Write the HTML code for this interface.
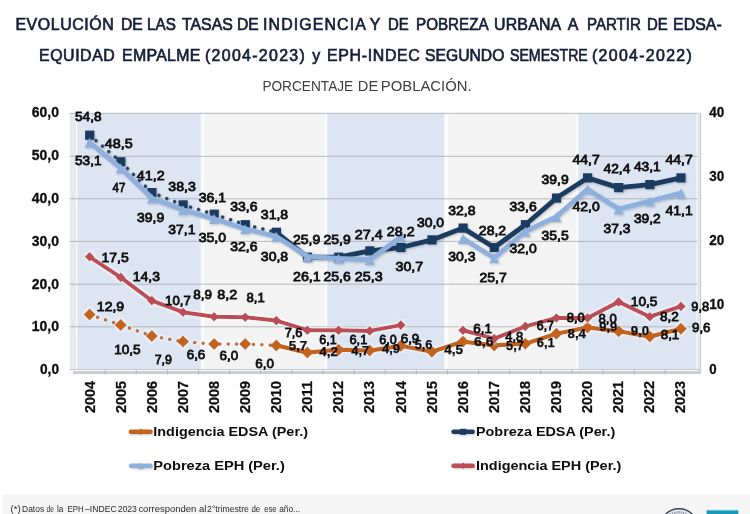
<!DOCTYPE html>
<html lang="es"><head><meta charset="utf-8"><title>Evolución de las tasas de indigencia y de pobreza urbana</title>
<style>
html,body{margin:0;padding:0;background:#fff;}
body{width:750px;height:514px;overflow:hidden;}
svg{display:block;}
text{font-family:"Liberation Sans",Arial,sans-serif;}
.t1{font-size:15.9px;fill:#151d38;stroke:#151d38;stroke-width:0.65px;}
.t3{font-size:14.2px;fill:#404040;}
.ax{font-size:13.8px;font-weight:bold;fill:#0c0c0c;stroke:#0c0c0c;stroke-width:0.3px;}
.yr{font-size:14.5px;font-weight:bold;fill:#0c0c0c;stroke:#0c0c0c;stroke-width:0.25px;}
.dl{font-size:13.1px;fill:#101010;stroke:#101010;stroke-width:0.8px;}
.lg{font-size:13.5px;font-weight:bold;fill:#0c0c0c;}
.fn{font-size:9px;fill:#2a2a2a;}
</style></head><body>
<svg width="750" height="514" viewBox="0 0 750 514">
<defs>
<filter id="sh" x="-5%" y="-20%" width="110%" height="140%"><feGaussianBlur in="SourceAlpha" stdDeviation="1.2"/><feOffset dx="0.8" dy="1.2"/><feComponentTransfer><feFuncA type="linear" slope="0.22"/></feComponentTransfer><feMerge><feMergeNode/><feMergeNode in="SourceGraphic"/></feMerge></filter>
<filter id="gl" x="-5%" y="-30%" width="110%" height="160%"><feMorphology in="SourceAlpha" operator="dilate" radius="1" result="d"/><feGaussianBlur in="d" stdDeviation="0.9" result="b"/><feFlood flood-color="#ffffff" flood-opacity="0.6"/><feComposite in2="b" operator="in" result="g"/><feMerge><feMergeNode in="g"/><feMergeNode in="SourceGraphic"/></feMerge></filter>
<filter id="bl" x="0" y="0" width="750" height="514" filterUnits="userSpaceOnUse"><feGaussianBlur stdDeviation="0.45"/></filter>
</defs>
<rect width="750" height="514" fill="#ffffff"/>
<g filter="url(#bl)">

<g class="t1">
<text x="15.4" y="30.1" textLength="98.4" lengthAdjust="spacing">EVOLUCIÓN</text>
<text x="121.0" y="30.1" textLength="21.8" lengthAdjust="spacingAndGlyphs">DE</text>
<text x="147.0" y="30.1" textLength="28.8" lengthAdjust="spacingAndGlyphs">LAS</text>
<text x="182.0" y="30.1" textLength="50.8" lengthAdjust="spacingAndGlyphs">TASAS</text>
<text x="237.0" y="30.1" textLength="21.8" lengthAdjust="spacingAndGlyphs">DE</text>
<text x="263.0" y="30.1" textLength="102.8" lengthAdjust="spacing">INDIGENCIA</text>
<text x="369.8" y="30.1" textLength="12.4" lengthAdjust="spacing">Y</text>
<text x="388.0" y="30.1" textLength="20.8" lengthAdjust="spacingAndGlyphs">DE</text>
<text x="416.0" y="30.1" textLength="72.6" lengthAdjust="spacingAndGlyphs">POBREZA</text>
<text x="494.0" y="30.1" textLength="67.2" lengthAdjust="spacing">URBANA</text>
<text x="567.8" y="30.1" textLength="13.4" lengthAdjust="spacing">A</text>
<text x="587.0" y="30.1" textLength="53.8" lengthAdjust="spacingAndGlyphs">PARTIR</text>
<text x="647.0" y="30.1" textLength="20.8" lengthAdjust="spacingAndGlyphs">DE</text>
<text x="673.0" y="30.1" textLength="48.8" lengthAdjust="spacing">EDSA-</text>
<text x="39.0" y="60.9" textLength="75.8" lengthAdjust="spacing">EQUIDAD</text>
<text x="122.0" y="60.9" textLength="78.4" lengthAdjust="spacing">EMPALME</text>
<text x="205.0" y="60.9" textLength="99.8" lengthAdjust="spacing">(2004-2023)</text>
<text x="312.2" y="60.9" textLength="9.6" lengthAdjust="spacing">y</text>
<text x="327.0" y="60.9" textLength="92.8" lengthAdjust="spacing">EPH-INDEC</text>
<text x="425.0" y="60.9" textLength="79.4" lengthAdjust="spacingAndGlyphs">SEGUNDO</text>
<text x="510.0" y="60.9" textLength="77.8" lengthAdjust="spacingAndGlyphs">SEMESTRE</text>
<text x="592.0" y="60.9" textLength="99.8" lengthAdjust="spacing">(2004-2022)</text>
</g>
<g class="t3">
<text x="262.4" y="90.8" textLength="90.8" lengthAdjust="spacingAndGlyphs">PORCENTAJE</text>
<text x="357.8" y="90.8" textLength="20.4" lengthAdjust="spacingAndGlyphs">DE</text>
<text x="380.8" y="90.8" textLength="90.8" lengthAdjust="spacingAndGlyphs">POBLACIÓN.</text>
</g>
<g>
<rect x="76" y="113.3" width="621" height="255.7" fill="#fbfbfc"/>
<rect x="77.3" y="113.3" width="123.4" height="255.7" fill="#dce5f1"/>
<rect x="204.7" y="113.3" width="120.0" height="255.7" fill="#f3f3f3"/>
<rect x="327.3" y="113.3" width="117.0" height="255.7" fill="#dce5f1"/>
<rect x="448.3" y="113.3" width="127.4" height="255.7" fill="#f3f3f3"/>
<rect x="578.3" y="113.3" width="118.0" height="255.7" fill="#dce5f1"/>
<rect x="70" y="113.3" width="6" height="256.7" fill="#e7e9ed"/>
<line x1="69.4" x2="700.6" y1="113.3" y2="113.3" stroke="#aeb2b8" stroke-width="0.9"/>
<line x1="69.4" x2="700.6" y1="156.3" y2="156.3" stroke="#aeb2b8" stroke-width="0.9"/>
<line x1="69.4" x2="700.6" y1="198.8" y2="198.8" stroke="#aeb2b8" stroke-width="0.9"/>
<line x1="69.4" x2="700.6" y1="241.4" y2="241.4" stroke="#aeb2b8" stroke-width="0.9"/>
<line x1="69.4" x2="700.6" y1="284.2" y2="284.2" stroke="#aeb2b8" stroke-width="0.9"/>
<line x1="69.4" x2="700.6" y1="326.8" y2="326.8" stroke="#aeb2b8" stroke-width="0.9"/>
<rect x="697" y="113.3" width="3.4" height="259.7" fill="#e6e8eb"/>
<line x1="700.6" x2="700.6" y1="113.3" y2="374" stroke="#c3c6ca" stroke-width="1"/>
<line x1="69.6" x2="701" y1="369.5" y2="369.5" stroke="#c4c7cb" stroke-width="1"/>
<rect x="73" y="371" width="628" height="3" fill="#cbced2"/>
<line x1="105.1" x2="105.1" y1="369.5" y2="374.4" stroke="#b4b7bb" stroke-width="1"/>
<line x1="136.2" x2="136.2" y1="369.5" y2="374.4" stroke="#b4b7bb" stroke-width="1"/>
<line x1="167.4" x2="167.4" y1="369.5" y2="374.4" stroke="#b4b7bb" stroke-width="1"/>
<line x1="198.5" x2="198.5" y1="369.5" y2="374.4" stroke="#b4b7bb" stroke-width="1"/>
<line x1="229.6" x2="229.6" y1="369.5" y2="374.4" stroke="#b4b7bb" stroke-width="1"/>
<line x1="260.7" x2="260.7" y1="369.5" y2="374.4" stroke="#b4b7bb" stroke-width="1"/>
<line x1="291.8" x2="291.8" y1="369.5" y2="374.4" stroke="#b4b7bb" stroke-width="1"/>
<line x1="323.0" x2="323.0" y1="369.5" y2="374.4" stroke="#b4b7bb" stroke-width="1"/>
<line x1="354.1" x2="354.1" y1="369.5" y2="374.4" stroke="#b4b7bb" stroke-width="1"/>
<line x1="385.2" x2="385.2" y1="369.5" y2="374.4" stroke="#b4b7bb" stroke-width="1"/>
<line x1="416.3" x2="416.3" y1="369.5" y2="374.4" stroke="#b4b7bb" stroke-width="1"/>
<line x1="447.4" x2="447.4" y1="369.5" y2="374.4" stroke="#b4b7bb" stroke-width="1"/>
<line x1="478.6" x2="478.6" y1="369.5" y2="374.4" stroke="#b4b7bb" stroke-width="1"/>
<line x1="509.7" x2="509.7" y1="369.5" y2="374.4" stroke="#b4b7bb" stroke-width="1"/>
<line x1="540.8" x2="540.8" y1="369.5" y2="374.4" stroke="#b4b7bb" stroke-width="1"/>
<line x1="571.9" x2="571.9" y1="369.5" y2="374.4" stroke="#b4b7bb" stroke-width="1"/>
<line x1="603.0" x2="603.0" y1="369.5" y2="374.4" stroke="#b4b7bb" stroke-width="1"/>
<line x1="634.2" x2="634.2" y1="369.5" y2="374.4" stroke="#b4b7bb" stroke-width="1"/>
<line x1="665.3" x2="665.3" y1="369.5" y2="374.4" stroke="#b4b7bb" stroke-width="1"/>
</g>
<g filter="url(#gl)">
<polyline points="89.6,314.6 120.7,324.9 151.8,336.0 183.0,341.6 214.1,344.1 245.2,344.1 276.3,345.4" fill="none" stroke="#b9723f" stroke-width="3.6" stroke-linejoin="round" stroke-linecap="round" stroke-dasharray="0.1 8.3"/>
<polyline points="276.3,345.4 307.4,352.6 338.6,349.7 369.7,350.6 400.8,345.8 431.9,351.8 463.0,341.6 494.2,345.4 525.3,343.7 556.4,333.8 587.5,327.4 618.6,331.3 649.8,336.6 680.9,328.7" fill="none" stroke="#c4641f" stroke-width="4.2" stroke-linejoin="round" stroke-linecap="round" />
<path d="M89.6 308.6L95.6 314.6L89.6 320.6L83.6 314.6Z" fill="#c4641f"/>
<path d="M120.7 318.9L126.7 324.9L120.7 330.9L114.7 324.9Z" fill="#c4641f"/>
<path d="M151.8 330.0L157.8 336.0L151.8 342.0L145.8 336.0Z" fill="#c4641f"/>
<path d="M183.0 335.6L189.0 341.6L183.0 347.6L177.0 341.6Z" fill="#c4641f"/>
<path d="M214.1 338.1L220.1 344.1L214.1 350.1L208.1 344.1Z" fill="#c4641f"/>
<path d="M245.2 338.1L251.2 344.1L245.2 350.1L239.2 344.1Z" fill="#c4641f"/>
<path d="M276.3 339.4L282.3 345.4L276.3 351.4L270.3 345.4Z" fill="#c4641f"/>
<path d="M307.4 346.6L313.4 352.6L307.4 358.6L301.4 352.6Z" fill="#c4641f"/>
<path d="M338.6 343.7L344.6 349.7L338.6 355.7L332.6 349.7Z" fill="#c4641f"/>
<path d="M369.7 344.6L375.7 350.6L369.7 356.6L363.7 350.6Z" fill="#c4641f"/>
<path d="M400.8 339.8L406.8 345.8L400.8 351.8L394.8 345.8Z" fill="#c4641f"/>
<path d="M431.9 345.8L437.9 351.8L431.9 357.8L425.9 351.8Z" fill="#c4641f"/>
<path d="M463.0 335.6L469.0 341.6L463.0 347.6L457.0 341.6Z" fill="#c4641f"/>
<path d="M494.2 339.4L500.2 345.4L494.2 351.4L488.2 345.4Z" fill="#c4641f"/>
<path d="M525.3 337.7L531.3 343.7L525.3 349.7L519.3 343.7Z" fill="#c4641f"/>
<path d="M556.4 327.8L562.4 333.8L556.4 339.8L550.4 333.8Z" fill="#c4641f"/>
<path d="M587.5 321.4L593.5 327.4L587.5 333.4L581.5 327.4Z" fill="#c4641f"/>
<path d="M618.6 325.3L624.6 331.3L618.6 337.3L612.6 331.3Z" fill="#c4641f"/>
<path d="M649.8 330.6L655.8 336.6L649.8 342.6L643.8 336.6Z" fill="#c4641f"/>
<path d="M680.9 322.7L686.9 328.7L680.9 334.7L674.9 328.7Z" fill="#c4641f"/>
</g>
<g filter="url(#sh)">
<polyline points="89.6,135.2 120.7,161.8 151.8,192.6 183.0,204.9 214.1,214.2 245.2,224.7 276.3,232.3" fill="none" stroke="#2b4568" stroke-width="3.5" stroke-linejoin="round" stroke-linecap="round" stroke-dasharray="0.1 8.3"/>
<polyline points="276.3,232.3 307.4,257.2 338.6,257.2 369.7,250.9 400.8,247.5 431.9,239.9 463.0,228.1 494.2,247.5 525.3,224.7 556.4,198.1 587.5,177.9 618.6,187.6 649.8,184.6 680.9,177.9" fill="none" stroke="#1f3b60" stroke-width="4.8" stroke-linejoin="round" stroke-linecap="round" />
<rect x="85.1" y="130.6" width="9.2" height="9.2" fill="#1f3b60"/>
<rect x="116.2" y="157.2" width="9.2" height="9.2" fill="#1f3b60"/>
<rect x="147.3" y="188.0" width="9.2" height="9.2" fill="#1f3b60"/>
<rect x="178.5" y="200.3" width="9.2" height="9.2" fill="#1f3b60"/>
<rect x="209.6" y="209.6" width="9.2" height="9.2" fill="#1f3b60"/>
<rect x="240.7" y="220.1" width="9.2" height="9.2" fill="#1f3b60"/>
<rect x="271.8" y="227.7" width="9.2" height="9.2" fill="#1f3b60"/>
<rect x="302.9" y="252.6" width="9.2" height="9.2" fill="#1f3b60"/>
<rect x="334.1" y="252.6" width="9.2" height="9.2" fill="#1f3b60"/>
<rect x="365.2" y="246.3" width="9.2" height="9.2" fill="#1f3b60"/>
<rect x="396.3" y="242.9" width="9.2" height="9.2" fill="#1f3b60"/>
<rect x="427.4" y="235.3" width="9.2" height="9.2" fill="#1f3b60"/>
<rect x="458.5" y="223.5" width="9.2" height="9.2" fill="#1f3b60"/>
<rect x="489.7" y="242.9" width="9.2" height="9.2" fill="#1f3b60"/>
<rect x="520.8" y="220.1" width="9.2" height="9.2" fill="#1f3b60"/>
<rect x="551.9" y="193.5" width="9.2" height="9.2" fill="#1f3b60"/>
<rect x="583.0" y="173.3" width="9.2" height="9.2" fill="#1f3b60"/>
<rect x="614.1" y="183.0" width="9.2" height="9.2" fill="#1f3b60"/>
<rect x="645.3" y="180.0" width="9.2" height="9.2" fill="#1f3b60"/>
<rect x="676.4" y="173.3" width="9.2" height="9.2" fill="#1f3b60"/>
</g>
<g filter="url(#sh)">
<polyline points="89.6,142.4 120.7,168.2 151.8,198.1 183.0,209.9 214.1,218.8 245.2,228.9 276.3,236.5 307.4,256.4 338.6,258.5 369.7,259.7 400.8,236.9" fill="none" stroke="#8fb0dc" stroke-width="4.9" stroke-linejoin="round" stroke-linecap="round" />
<polyline points="463.0,238.6 494.2,258.0 525.3,231.5 556.4,216.7 587.5,189.3 618.6,209.1 649.8,201.1 680.9,193.1" fill="none" stroke="#8fb0dc" stroke-width="4.9" stroke-linejoin="round" stroke-linecap="round" />
<path d="M89.6 137.7L94.6 147.7L84.6 147.7Z" fill="#8fb0dc"/>
<path d="M120.7 163.5L125.7 173.5L115.7 173.5Z" fill="#8fb0dc"/>
<path d="M151.8 193.4L156.8 203.4L146.8 203.4Z" fill="#8fb0dc"/>
<path d="M183.0 205.2L188.0 215.2L178.0 215.2Z" fill="#8fb0dc"/>
<path d="M214.1 214.1L219.1 224.1L209.1 224.1Z" fill="#8fb0dc"/>
<path d="M245.2 224.2L250.2 234.2L240.2 234.2Z" fill="#8fb0dc"/>
<path d="M276.3 231.8L281.3 241.8L271.3 241.8Z" fill="#8fb0dc"/>
<path d="M307.4 251.7L312.4 261.7L302.4 261.7Z" fill="#8fb0dc"/>
<path d="M338.6 253.8L343.6 263.8L333.6 263.8Z" fill="#8fb0dc"/>
<path d="M369.7 255.0L374.7 265.0L364.7 265.0Z" fill="#8fb0dc"/>
<path d="M400.8 232.2L405.8 242.2L395.8 242.2Z" fill="#8fb0dc"/>
<path d="M463.0 233.9L468.0 243.9L458.0 243.9Z" fill="#8fb0dc"/>
<path d="M494.2 253.3L499.2 263.3L489.2 263.3Z" fill="#8fb0dc"/>
<path d="M525.3 226.8L530.3 236.8L520.3 236.8Z" fill="#8fb0dc"/>
<path d="M556.4 212.0L561.4 222.0L551.4 222.0Z" fill="#8fb0dc"/>
<path d="M587.5 184.6L592.5 194.6L582.5 194.6Z" fill="#8fb0dc"/>
<path d="M618.6 204.4L623.6 214.4L613.6 214.4Z" fill="#8fb0dc"/>
<path d="M649.8 196.4L654.8 206.4L644.8 206.4Z" fill="#8fb0dc"/>
<path d="M680.9 188.4L685.9 198.4L675.9 198.4Z" fill="#8fb0dc"/>
</g>
<g filter="url(#gl)">
<polyline points="89.6,256.8 120.7,277.4 151.8,300.6 183.0,312.2 214.1,316.7 245.2,317.3 276.3,320.6 307.4,330.2 338.6,330.2 369.7,330.9 400.8,325.1" fill="none" stroke="#bb4d56" stroke-width="4" stroke-linejoin="round" stroke-linecap="round" />
<polyline points="463.0,330.2 494.2,338.6 525.3,326.4 556.4,318.0 587.5,318.0 618.6,301.9 649.8,316.7 680.9,306.4" fill="none" stroke="#bb4d56" stroke-width="4" stroke-linejoin="round" stroke-linecap="round" />
<path d="M89.6 252.0L94.4 256.8L89.6 261.6L84.8 256.8Z" fill="#bb4d56"/>
<path d="M120.7 272.6L125.5 277.4L120.7 282.2L115.9 277.4Z" fill="#bb4d56"/>
<path d="M151.8 295.8L156.6 300.6L151.8 305.4L147.0 300.6Z" fill="#bb4d56"/>
<path d="M183.0 307.4L187.8 312.2L183.0 317.0L178.2 312.2Z" fill="#bb4d56"/>
<path d="M214.1 311.9L218.9 316.7L214.1 321.5L209.3 316.7Z" fill="#bb4d56"/>
<path d="M245.2 312.5L250.0 317.3L245.2 322.1L240.4 317.3Z" fill="#bb4d56"/>
<path d="M276.3 315.8L281.1 320.6L276.3 325.4L271.5 320.6Z" fill="#bb4d56"/>
<path d="M307.4 325.4L312.2 330.2L307.4 335.0L302.6 330.2Z" fill="#bb4d56"/>
<path d="M338.6 325.4L343.4 330.2L338.6 335.0L333.8 330.2Z" fill="#bb4d56"/>
<path d="M369.7 326.1L374.5 330.9L369.7 335.7L364.9 330.9Z" fill="#bb4d56"/>
<path d="M400.8 320.3L405.6 325.1L400.8 329.9L396.0 325.1Z" fill="#bb4d56"/>
<path d="M463.0 325.4L467.8 330.2L463.0 335.0L458.2 330.2Z" fill="#bb4d56"/>
<path d="M494.2 333.8L499.0 338.6L494.2 343.4L489.4 338.6Z" fill="#bb4d56"/>
<path d="M525.3 321.6L530.1 326.4L525.3 331.2L520.5 326.4Z" fill="#bb4d56"/>
<path d="M556.4 313.2L561.2 318.0L556.4 322.8L551.6 318.0Z" fill="#bb4d56"/>
<path d="M587.5 313.2L592.3 318.0L587.5 322.8L582.7 318.0Z" fill="#bb4d56"/>
<path d="M618.6 297.1L623.4 301.9L618.6 306.7L613.8 301.9Z" fill="#bb4d56"/>
<path d="M649.8 311.9L654.6 316.7L649.8 321.5L645.0 316.7Z" fill="#bb4d56"/>
<path d="M680.9 301.6L685.7 306.4L680.9 311.2L676.1 306.4Z" fill="#bb4d56"/>
</g>
<g class="dl">
<text x="75.0" y="120.8" textLength="26.5" lengthAdjust="spacingAndGlyphs">54,8</text>
<text x="104.8" y="148.0" textLength="27.9" lengthAdjust="spacingAndGlyphs">48,5</text>
<text x="136.8" y="180.0" textLength="27.9" lengthAdjust="spacingAndGlyphs">41,2</text>
<text x="168.3" y="191.4" textLength="27.6" lengthAdjust="spacingAndGlyphs">38,3</text>
<text x="198.7" y="201.8" textLength="27.3" lengthAdjust="spacingAndGlyphs">36,1</text>
<text x="230.2" y="211.3" textLength="27.3" lengthAdjust="spacingAndGlyphs">33,6</text>
<text x="260.8" y="219.3" textLength="27.4" lengthAdjust="spacingAndGlyphs">31,8</text>
<text x="292.9" y="243.6" textLength="27.4" lengthAdjust="spacingAndGlyphs">25,9</text>
<text x="323.5" y="244.0" textLength="27.2" lengthAdjust="spacingAndGlyphs">25,9</text>
<text x="354.8" y="238.7" textLength="27.9" lengthAdjust="spacingAndGlyphs">27,4</text>
<text x="386.8" y="235.5" textLength="27.9" lengthAdjust="spacingAndGlyphs">28,2</text>
<text x="417.0" y="226.7" textLength="27.0" lengthAdjust="spacingAndGlyphs">30,0</text>
<text x="448.2" y="214.5" textLength="27.3" lengthAdjust="spacingAndGlyphs">32,8</text>
<text x="478.8" y="235.3" textLength="27.4" lengthAdjust="spacingAndGlyphs">28,2</text>
<text x="509.5" y="211.3" textLength="27.2" lengthAdjust="spacingAndGlyphs">33,6</text>
<text x="541.5" y="183.9" textLength="27.2" lengthAdjust="spacingAndGlyphs">39,9</text>
<text x="572.5" y="164.0" textLength="27.2" lengthAdjust="spacingAndGlyphs">44,7</text>
<text x="603.5" y="173.0" textLength="26.8" lengthAdjust="spacingAndGlyphs">42,4</text>
<text x="633.9" y="171.0" textLength="26.8" lengthAdjust="spacingAndGlyphs">43,1</text>
<text x="665.5" y="163.6" textLength="27.2" lengthAdjust="spacingAndGlyphs">44,7</text>
<text x="75.0" y="165.3" textLength="26.5" lengthAdjust="spacingAndGlyphs">53,1</text>
<text x="112.5" y="191.5" textLength="12.8" lengthAdjust="spacingAndGlyphs">47</text>
<text x="137.0" y="222.0" textLength="27.2" lengthAdjust="spacingAndGlyphs">39,9</text>
<text x="168.3" y="234.0" textLength="27.1" lengthAdjust="spacingAndGlyphs">37,1</text>
<text x="198.7" y="242.0" textLength="27.3" lengthAdjust="spacingAndGlyphs">35,0</text>
<text x="230.2" y="251.3" textLength="27.3" lengthAdjust="spacingAndGlyphs">32,6</text>
<text x="260.8" y="260.7" textLength="27.4" lengthAdjust="spacingAndGlyphs">30,8</text>
<text x="293.0" y="281.3" textLength="27.7" lengthAdjust="spacingAndGlyphs">26,1</text>
<text x="323.5" y="281.3" textLength="27.2" lengthAdjust="spacingAndGlyphs">25,6</text>
<text x="354.8" y="281.3" textLength="27.9" lengthAdjust="spacingAndGlyphs">25,3</text>
<text x="395.5" y="270.7" textLength="27.7" lengthAdjust="spacingAndGlyphs">30,7</text>
<text x="448.2" y="261.0" textLength="27.3" lengthAdjust="spacingAndGlyphs">30,3</text>
<text x="479.5" y="282.0" textLength="27.2" lengthAdjust="spacingAndGlyphs">25,7</text>
<text x="509.5" y="253.2" textLength="27.2" lengthAdjust="spacingAndGlyphs">32,0</text>
<text x="541.5" y="239.9" textLength="27.2" lengthAdjust="spacingAndGlyphs">35,5</text>
<text x="572.5" y="211.0" textLength="27.2" lengthAdjust="spacingAndGlyphs">42,0</text>
<text x="603.5" y="232.7" textLength="26.8" lengthAdjust="spacingAndGlyphs">37,3</text>
<text x="633.9" y="223.0" textLength="26.8" lengthAdjust="spacingAndGlyphs">39,2</text>
<text x="665.5" y="215.0" textLength="27.2" lengthAdjust="spacingAndGlyphs">41,1</text>
<text x="101.5" y="261.9" textLength="27.2" lengthAdjust="spacingAndGlyphs">17,5</text>
<text x="132.8" y="281.3" textLength="27.1" lengthAdjust="spacingAndGlyphs">14,3</text>
<text x="165.1" y="305.3" textLength="25.6" lengthAdjust="spacingAndGlyphs">10,7</text>
<text x="193.3" y="298.7" textLength="18.7" lengthAdjust="spacingAndGlyphs">8,9</text>
<text x="217.3" y="298.7" textLength="20.0" lengthAdjust="spacingAndGlyphs">8,2</text>
<text x="246.5" y="301.9" textLength="18.2" lengthAdjust="spacingAndGlyphs">8,1</text>
<text x="284.7" y="337.3" textLength="17.8" lengthAdjust="spacingAndGlyphs">7,6</text>
<text x="319.3" y="343.5" textLength="17.4" lengthAdjust="spacingAndGlyphs">6,1</text>
<text x="349.5" y="343.5" textLength="17.8" lengthAdjust="spacingAndGlyphs">6,1</text>
<text x="379.3" y="343.5" textLength="17.4" lengthAdjust="spacingAndGlyphs">6,0</text>
<text x="400.7" y="342.7" textLength="18.6" lengthAdjust="spacingAndGlyphs">6,9</text>
<text x="473.3" y="333.3" textLength="18.7" lengthAdjust="spacingAndGlyphs">6,1</text>
<text x="505.3" y="340.8" textLength="17.9" lengthAdjust="spacingAndGlyphs">4,8</text>
<text x="536.8" y="330.1" textLength="17.2" lengthAdjust="spacingAndGlyphs">6,7</text>
<text x="566.7" y="321.5" textLength="18.1" lengthAdjust="spacingAndGlyphs">8,0</text>
<text x="598.5" y="322.5" textLength="18.2" lengthAdjust="spacingAndGlyphs">8,0</text>
<text x="630.8" y="306.0" textLength="26.6" lengthAdjust="spacingAndGlyphs">10,5</text>
<text x="660.0" y="321.2" textLength="18.8" lengthAdjust="spacingAndGlyphs">8,2</text>
<text x="691.3" y="311.3" textLength="17.9" lengthAdjust="spacingAndGlyphs">9,8</text>
<text x="96.8" y="310.7" textLength="27.4" lengthAdjust="spacingAndGlyphs">12,9</text>
<text x="114.2" y="354.1" textLength="26.5" lengthAdjust="spacingAndGlyphs">10,5</text>
<text x="154.7" y="364.0" textLength="17.3" lengthAdjust="spacingAndGlyphs">7,9</text>
<text x="186.7" y="358.7" textLength="18.6" lengthAdjust="spacingAndGlyphs">6,6</text>
<text x="219.5" y="360.0" textLength="18.6" lengthAdjust="spacingAndGlyphs">6,0</text>
<text x="255.3" y="368.0" textLength="18.7" lengthAdjust="spacingAndGlyphs">6,0</text>
<text x="288.7" y="349.9" textLength="18.6" lengthAdjust="spacingAndGlyphs" font-weight="bold" stroke-width="0.25">5,7</text>
<text x="319.3" y="356.0" textLength="18.7" lengthAdjust="spacingAndGlyphs" font-weight="bold" stroke-width="0.25">4,2</text>
<text x="351.3" y="355.2" textLength="17.9" lengthAdjust="spacingAndGlyphs" font-weight="bold" stroke-width="0.25">4,7</text>
<text x="382.0" y="353.3" textLength="18.0" lengthAdjust="spacingAndGlyphs" font-weight="bold" stroke-width="0.25">4,9</text>
<text x="414.7" y="348.8" textLength="17.8" lengthAdjust="spacingAndGlyphs" font-weight="bold" stroke-width="0.25">5,6</text>
<text x="444.2" y="353.8" textLength="18.8" lengthAdjust="spacingAndGlyphs" font-weight="bold" stroke-width="0.25">4,5</text>
<text x="474.0" y="346.4" textLength="19.6" lengthAdjust="spacingAndGlyphs" font-weight="bold" stroke-width="0.25">6,6</text>
<text x="506.0" y="349.5" textLength="18.0" lengthAdjust="spacingAndGlyphs" font-weight="bold" stroke-width="0.25">5,7</text>
<text x="536.8" y="347.4" textLength="17.9" lengthAdjust="spacingAndGlyphs" font-weight="bold" stroke-width="0.25">6,1</text>
<text x="567.5" y="337.5" textLength="18.5" lengthAdjust="spacingAndGlyphs" font-weight="bold" stroke-width="0.25">8,4</text>
<text x="599.3" y="331.3" textLength="17.9" lengthAdjust="spacingAndGlyphs" font-weight="bold" stroke-width="0.25">9,9</text>
<text x="630.8" y="335.3" textLength="18.4" lengthAdjust="spacingAndGlyphs" font-weight="bold" stroke-width="0.25">9,0</text>
<text x="660.7" y="338.8" textLength="18.6" lengthAdjust="spacingAndGlyphs">8,1</text>
<text x="692.0" y="331.9" textLength="18.5" lengthAdjust="spacingAndGlyphs">9,6</text>
</g>
<g class="ax">
<text x="31.8" y="117.4" textLength="27.2" lengthAdjust="spacingAndGlyphs">60,0</text>
<text x="31.8" y="160.2" textLength="27.2" lengthAdjust="spacingAndGlyphs">50,0</text>
<text x="31.8" y="203.0" textLength="27.2" lengthAdjust="spacingAndGlyphs">40,0</text>
<text x="31.8" y="245.8" textLength="27.2" lengthAdjust="spacingAndGlyphs">30,0</text>
<text x="31.8" y="288.6" textLength="27.2" lengthAdjust="spacingAndGlyphs">20,0</text>
<text x="31.8" y="331.4" textLength="27.2" lengthAdjust="spacingAndGlyphs">10,0</text>
<text x="40.0" y="374.2" textLength="19" lengthAdjust="spacingAndGlyphs">0,0</text>
<text x="709.3" y="116.6" textLength="15" lengthAdjust="spacingAndGlyphs">40</text>
<text x="709.3" y="180.8" textLength="15" lengthAdjust="spacingAndGlyphs">30</text>
<text x="709.3" y="245.1" textLength="15" lengthAdjust="spacingAndGlyphs">20</text>
<text x="709.3" y="309.4" textLength="15" lengthAdjust="spacingAndGlyphs">10</text>
<text x="709.3" y="373.6" textLength="7.4" lengthAdjust="spacingAndGlyphs">0</text>
</g>
<g class="yr">
<text transform="translate(94.7 413) rotate(-90)" textLength="32" lengthAdjust="spacingAndGlyphs">2004</text>
<text transform="translate(125.8 413) rotate(-90)" textLength="32" lengthAdjust="spacingAndGlyphs">2005</text>
<text transform="translate(156.9 413) rotate(-90)" textLength="32" lengthAdjust="spacingAndGlyphs">2006</text>
<text transform="translate(187.9 413) rotate(-90)" textLength="32" lengthAdjust="spacingAndGlyphs">2007</text>
<text transform="translate(219.0 413) rotate(-90)" textLength="32" lengthAdjust="spacingAndGlyphs">2008</text>
<text transform="translate(250.1 413) rotate(-90)" textLength="32" lengthAdjust="spacingAndGlyphs">2009</text>
<text transform="translate(281.2 413) rotate(-90)" textLength="32" lengthAdjust="spacingAndGlyphs">2010</text>
<text transform="translate(312.3 413) rotate(-90)" textLength="32" lengthAdjust="spacingAndGlyphs">2011</text>
<text transform="translate(343.3 413) rotate(-90)" textLength="32" lengthAdjust="spacingAndGlyphs">2012</text>
<text transform="translate(374.4 413) rotate(-90)" textLength="32" lengthAdjust="spacingAndGlyphs">2013</text>
<text transform="translate(405.5 413) rotate(-90)" textLength="32" lengthAdjust="spacingAndGlyphs">2014</text>
<text transform="translate(436.6 413) rotate(-90)" textLength="32" lengthAdjust="spacingAndGlyphs">2015</text>
<text transform="translate(467.7 413) rotate(-90)" textLength="32" lengthAdjust="spacingAndGlyphs">2016</text>
<text transform="translate(498.7 413) rotate(-90)" textLength="32" lengthAdjust="spacingAndGlyphs">2017</text>
<text transform="translate(529.8 413) rotate(-90)" textLength="32" lengthAdjust="spacingAndGlyphs">2018</text>
<text transform="translate(560.9 413) rotate(-90)" textLength="32" lengthAdjust="spacingAndGlyphs">2019</text>
<text transform="translate(592.0 413) rotate(-90)" textLength="32" lengthAdjust="spacingAndGlyphs">2020</text>
<text transform="translate(623.1 413) rotate(-90)" textLength="32" lengthAdjust="spacingAndGlyphs">2021</text>
<text transform="translate(654.1 413) rotate(-90)" textLength="32" lengthAdjust="spacingAndGlyphs">2022</text>
<text transform="translate(685.2 413) rotate(-90)" textLength="32" lengthAdjust="spacingAndGlyphs">2023</text>
</g>
<g filter="url(#sh)">
<line x1="131" x2="150.4" y1="431.8" y2="431.8" stroke="#c4641f" stroke-width="4.6" stroke-linecap="round"/><path d="M140.7 428.5L144.0 431.8L140.7 435.1L137.4 431.8Z" fill="#c4641f"/>
<line x1="131" x2="150.4" y1="465.7" y2="465.7" stroke="#8fb0dc" stroke-width="4.6" stroke-linecap="round"/><path d="M140.7 462.5L143.9 468.9L137.5 468.9Z" fill="#8fb0dc"/>
<line x1="453.6" x2="472.6" y1="431.8" y2="431.8" stroke="#1f3b60" stroke-width="4.6" stroke-linecap="round"/><rect x="460.1" y="428.8" width="6.0" height="6.0" fill="#1f3b60"/>
<line x1="453.6" x2="472.6" y1="465.7" y2="465.7" stroke="#bb4d56" stroke-width="4.6" stroke-linecap="round"/><path d="M463.1 462.4L466.4 465.7L463.1 469.0L459.8 465.7Z" fill="#bb4d56"/>
</g>
<g class="lg">
<text x="153.3" y="436.3" textLength="154.7" lengthAdjust="spacingAndGlyphs">Indigencia EDSA (Per.)</text>
<text x="153.3" y="469.7" textLength="131.5" lengthAdjust="spacingAndGlyphs">Pobreza EPH (Per.)</text>
<text x="476" y="436.3" textLength="139.2" lengthAdjust="spacingAndGlyphs">Pobreza EDSA (Per.)</text>
<text x="476" y="469.7" textLength="145.3" lengthAdjust="spacingAndGlyphs">Indigencia EPH (Per.)</text>
</g>
<rect x="2.5" y="494.3" width="747.5" height="20" fill="#f5f5f5"/>
<g class="fn">
<text x="10.4" y="512.2" textLength="10.3" lengthAdjust="spacingAndGlyphs">(*)</text>
<text x="22.1" y="512.2" textLength="22.0" lengthAdjust="spacingAndGlyphs">Datos</text>
<text x="46.6" y="512.2" textLength="7.3" lengthAdjust="spacingAndGlyphs">de</text>
<text x="56.9" y="512.2" textLength="6.4" lengthAdjust="spacingAndGlyphs">la</text>
<text x="67.5" y="512.2" textLength="16.1" lengthAdjust="spacingAndGlyphs">EPH</text>
<text x="85.0" y="512.2" textLength="31.7" lengthAdjust="spacingAndGlyphs">–INDEC</text>
<text x="117.7" y="512.2" textLength="19.2" lengthAdjust="spacingAndGlyphs">2023</text>
<text x="138.4" y="512.2" textLength="67.9" lengthAdjust="spacingAndGlyphs">corresponden al</text>
<text x="207.1" y="512.2" textLength="41.8" lengthAdjust="spacingAndGlyphs">2°trimestre</text>
<text x="251.4" y="512.2" textLength="8.8" lengthAdjust="spacingAndGlyphs">de</text>
<text x="264.2" y="512.2" textLength="12.5" lengthAdjust="spacingAndGlyphs">ese</text>
<text x="279.2" y="512.2" textLength="20.9" lengthAdjust="spacingAndGlyphs">año...</text>
</g>
<circle cx="679" cy="527.8" r="19" fill="#e9edf3" stroke="#3a4256" stroke-width="1.4"/>
<circle cx="679" cy="527.8" r="15.6" fill="none" stroke="#8b93a8" stroke-width="2.2" stroke-dasharray="1.2 1"/>
<rect x="706" y="509.4" width="33" height="6" fill="#cfeff7"/>
<rect x="706.7" y="510.4" width="31.5" height="5" fill="#1a98b6"/>
</g></svg></body></html>
